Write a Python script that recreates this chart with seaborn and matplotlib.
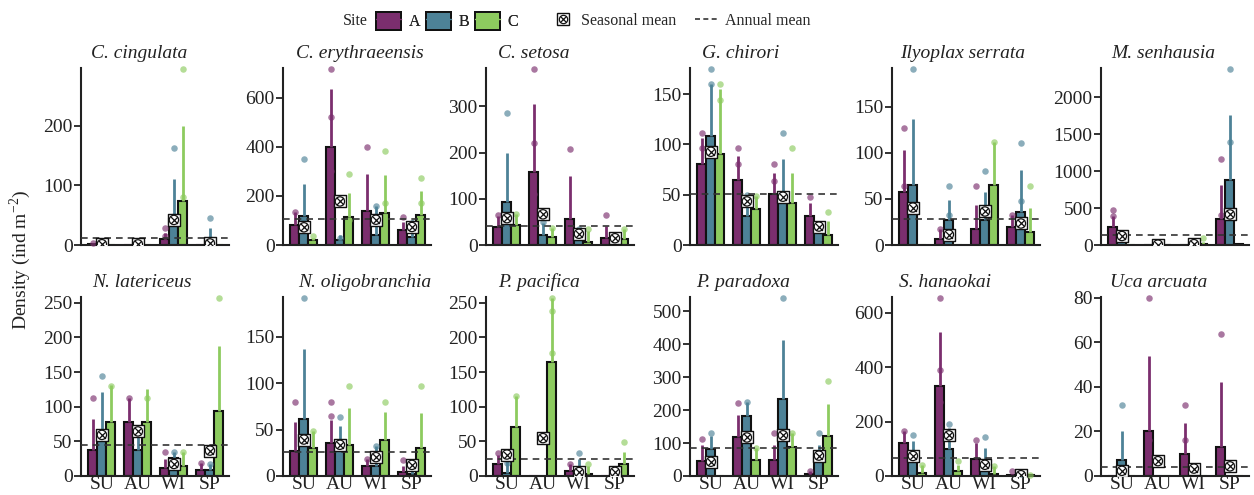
import matplotlib
matplotlib.use("Agg")
import matplotlib.pyplot as plt
import seaborn as sns
import pandas as pd
from matplotlib.patches import Patch
from matplotlib.lines import Line2D
from matplotlib.ticker import MultipleLocator

SEASONS = ["SU", "AU", "WI", "SP"]
SITES = ["A", "B", "C"]
SPECIES = ["C. cingulata", "C. erythraeensis", "C. setosa", "G. chirori",
           "Ilyoplax serrata", "M. senhausia", "N. latericeus", "N. oligobranchia",
           "P. pacifica", "P. paradoxa", "S. hanaokai", "Uca arcuata"]

# mean density per season (rows SU, AU, WI, SP) and site (A, B, C)
MEAN = {
    "C. cingulata":     [[1, 3, 0], [0, 3, 0], [10, 43, 73], [0, 8, 0]],
    "C. erythraeensis": [[80, 117, 19], [399, 20, 113], [140, 40, 129], [63, 33, 124]],
    "C. setosa":        [[38, 93, 43], [159, 22, 18], [56, 11, 6], [15, 15, 14]],
    "G. chirori":       [[80, 108, 90], [65, 29, 36], [51, 51, 42], [29, 16, 10]],
    "Ilyoplax serrata": [[57, 65, 0], [7, 27, 0], [17, 27, 65], [20, 36, 14]],
    "M. senhausia":     [[245, 120, 0], [5, 10, 2], [5, 10, 20], [348, 884, 10]],
    "N. latericeus":    [[37, 63, 78], [78, 37, 78], [11, 26, 15], [8, 8, 94]],
    "N. oligobranchia": [[27, 61, 30], [36, 32, 33], [11, 11, 39], [4, 2, 30]],
    "P. pacifica":      [[17, 5, 71], [0, 0, 164], [7, 7, 3], [0, 1, 17]],
    "P. paradoxa":      [[47, 83, 0], [118, 183, 50], [50, 233, 88], [5, 60, 121]],
    "S. hanaokai":      [[121, 88, 12], [331, 99, 18], [61, 55, 8], [3, 4, 2]],
    "Uca arcuata":      [[0, 7, 0], [20, 0, 0], [10, 0, 0], [13, 0, 0]],
}

# mean + SD
UPPER = {
    "C. cingulata":     [[3, 6, 0], [0, 6, 0], [20, 110, 200], [0, 28, 0]],
    "C. erythraeensis": [[133, 247, 30], [636, 40, 213], [291, 160, 283], [93, 100, 220]],
    "C. setosa":        [[63, 200, 66], [304, 48, 36], [149, 34, 31], [41, 20, 34]],
    "G. chirori":       [[106, 160, 155], [88, 50, 49], [72, 85, 72], [42, 20, 24]],
    "Ilyoplax serrata": [[103, 137, 0], [17, 49, 0], [43, 57, 112], [33, 81, 40]],
    "M. senhausia":     [[393, 200, 0], [10, 20, 5], [10, 20, 40], [817, 1763, 20]],
    "N. latericeus":    [[82, 121, 131], [113, 65, 126], [25, 34, 34], [19, 18, 188]],
    "N. oligobranchia": [[58, 137, 49], [60, 54, 73], [18, 32, 69], [11, 5, 68]],
    "P. pacifica":      [[31, 26, 115], [0, 0, 257], [18, 25, 14], [0, 1, 35]],
    "P. paradoxa":      [[95, 120, 0], [186, 226, 85], [95, 412, 130], [15, 93, 218]],
    "S. hanaokai":      [[164, 127, 42], [530, 176, 42], [121, 103, 36], [8, 8, 4]],
    "Uca arcuata":      [[0, 20, 0], [54, 0, 0], [24, 0, 0], [42, 0, 0]],
}

# visible replicate samples, order SU-A, SU-B, SU-C, AU-A, ... SP-C
POINTS = {
    "C. cingulata": [[4], [6], [], [], [5], [], [29, 15], [163, 48], [295, 80], [], [46, 10], []],
    "C. erythraeensis": [[133, 60], [352, 90], [37], [717, 523, 300], [30], [291, 100],
                         [397, 100], [160, 120], [384, 170], [116], [90], [271, 170]],
    "C. setosa": [[64], [286], [66], [381, 221, 110], [50], [36],
                  [207], [34], [34], [64], [20], [34]],
    "G. chirori": [[111, 96], [175, 160], [160, 144], [96, 80], [50], [49],
                   [80, 64], [111], [96], [48], [20], [33]],
    "Ilyoplax serrata": [[127, 64], [191], [], [17], [64, 32], [],
                         [64], [80], [112], [33], [111, 48], [64]],
    "M. senhausia": [[473, 390], [], [], [], [], [],
                     [], [], [90], [1165, 400], [2388, 1400], []],
    "N. latericeus": [[113], [145], [130], [113], [65], [113],
                      [34], [34], [34], [19], [18], [257]],
    "N. oligobranchia": [[80], [192], [49], [80, 65], [64], [97],
                         [18], [32], [80], [17], [11], [97]],
    "P. pacifica": [[33], [19], [115], [], [], [257, 238, 177],
                    [18], [33], [18], [], [], [49]],
    "P. paradoxa": [[113], [130], [], [223], [226], [85],
                    [130], [541], [130], [15], [130], [288]],
    "S. hanaokai": [[164], [149], [42], [655, 388, 273], [191], [55],
                    [133], [145], [36], [18], [8], [4]],
    "Uca arcuata": [[], [32], [], [80, 16], [], [], [32, 16], [], [], [64], [], []],
}

YSTEP = [100, 200, 100, 50, 50, 500, 50, 50, 50, 100, 200, 20]
TITLE_X = [0.39, 0.52, 0.32, 0.34, 0.48, 0.42, 0.41, 0.55, 0.36, 0.36, 0.36, 0.39]

COLORS = ["#7b2e6e", "#4d8297", "#8dcb5f"]
INK = "#222222"

sns.set_theme(style="ticks")
plt.rcParams["font.family"] = ["Liberation Serif", "DejaVu Serif"]
plt.rcParams["mathtext.fontset"] = "stix"

rows = []
for sp in SPECIES:
    for j, se in enumerate(SEASONS):
        for i, si in enumerate(SITES):
            rows.append({"species": sp, "season": se, "site": si,
                         "density": MEAN[sp][j][i], "upper": UPPER[sp][j][i]})
df = pd.DataFrame(rows)

fig = plt.figure(figsize=(12.54, 4.95), dpi=100)
lefts = [81, 283, 486, 690, 892, 1101]
W, H = 1254, 495

for k, sp in enumerate(SPECIES):
    r, c = divmod(k, 6)
    if r == 0:
        rect = [lefts[c] / W, 1 - 245 / H, 148 / W, 177 / H]
    else:
        rect = [lefts[c] / W, 1 - 476 / H, 148 / W, 179 / H]
    ax = fig.add_axes(rect)
    sub = df[df.species == sp]
    sns.barplot(data=sub, x="season", y="density", hue="site", order=SEASONS,
                hue_order=SITES, palette=COLORS, width=0.75, edgecolor="#111111",
                linewidth=1.5, errorbar=None, legend=False, saturation=1, ax=ax)
    for i in range(3):
        for j, bar in enumerate(ax.containers[i]):
            x = bar.get_x() + bar.get_width() / 2
            m, u = MEAN[sp][j][i], UPPER[sp][j][i]
            if m == 0:
                bar.set_edgecolor(COLORS[i])
            if u > m:
                ax.vlines(x, m, u, color=COLORS[i], lw=2, zorder=2)
            pts = POINTS[sp][3 * j + i]
            if pts:
                ax.scatter([x] * len(pts), pts, s=22, color=COLORS[i], alpha=0.65,
                           lw=0, zorder=3, clip_on=False)

    seasonal = sub.groupby("season")["density"].mean().reindex(SEASONS)
    xs = list(range(4))
    ax.scatter(xs, seasonal, marker="s", s=75, facecolor="white", edgecolor="#111111",
               lw=1.0, zorder=5)
    ax.scatter(xs, seasonal, marker="o", s=45, facecolor="none", edgecolor="#111111",
               lw=0.9, zorder=6)
    ax.scatter(xs, seasonal, marker="x", s=25, color="#111111", lw=0.9, zorder=7)
    ax.axhline(seasonal.mean(), ls=(0, (4, 3)), color="#333333", lw=1.2, zorder=4)

    top = max(max(p) for p in POINTS[sp] if p)
    ax.set_ylim(0, top * 1.005)
    ax.set_xlim(-0.58, 3.53)
    ax.yaxis.set_major_locator(MultipleLocator(YSTEP[k]))
    ax.set_xlabel("")
    ax.set_ylabel("")
    sns.despine(ax=ax)
    for s in ["left", "bottom"]:
        ax.spines[s].set_linewidth(1.5)
        ax.spines[s].set_color(INK)
    ax.tick_params(axis="y", direction="out", length=5, width=1.3, labelsize=14,
                   pad=1, colors=INK)
    ax.tick_params(axis="x", length=0, labelsize=14, pad=0, colors=INK)
    if r == 0:
        ax.set_xticklabels([])
    ax.annotate(sp, xy=(TITLE_X[k], 1.0), xycoords="axes fraction",
                xytext=(0, 4), textcoords="offset points", ha="center",
                va="bottom", fontsize=14, style="italic", color=INK)

fig.text(0.016, 0.475, "Density (ind m$^{\\mathregular{-2}}$)", rotation=90, ha="center",
         va="center", fontsize=14, color=INK)

# legend
fig.text(343 / W, 0.958, "Site", ha="left", va="center", fontsize=11.5, color=INK)
site_handles = [(Patch(facecolor=col, edgecolor="#111111", lw=1.4),
                 Line2D([], [], color=col, lw=1, marker="o", ms=3))
                for col in COLORS]
leg1 = fig.legend(site_handles, SITES, loc="center left", bbox_to_anchor=(376 / W, 0.958),
                  ncol=3, frameon=False, fontsize=11.5, handlelength=1.55,
                  handleheight=1.4, handletextpad=0.5, columnspacing=0.35,
                  borderpad=0, borderaxespad=0)
mean_handle = (Line2D([], [], ls="", marker="s", ms=8, mfc="white", mec="#111111", mew=1),
               Line2D([], [], ls="", marker="o", ms=6, mfc="none", mec="#111111", mew=0.9),
               Line2D([], [], ls="", marker="x", ms=4.5, color="#111111", mew=0.9))
line_handle = Line2D([], [], ls=(0, (3, 2)), color="#333333", lw=1.2)
fig.legend([mean_handle, line_handle], ["Seasonal mean", "Annual mean"],
           loc="center left", bbox_to_anchor=(551 / W, 0.958), ncol=2, frameon=False,
           fontsize=11.5, handlelength=1.55, handletextpad=0.3, columnspacing=1.2,
           borderpad=0, borderaxespad=0)
fig.add_artist(leg1)

fig.savefig("out.png", dpi=100)
